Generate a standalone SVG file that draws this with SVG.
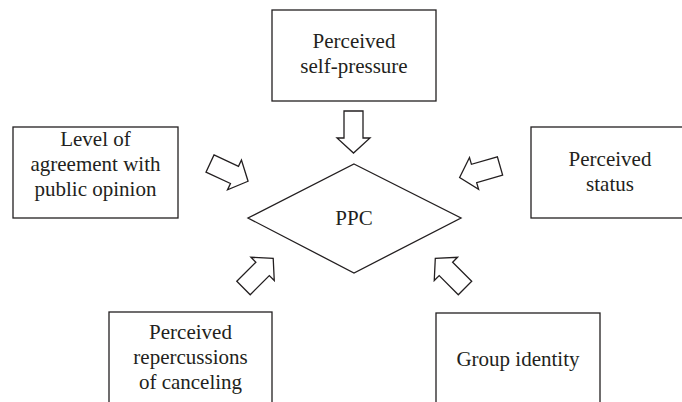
<svg xmlns="http://www.w3.org/2000/svg" width="682" height="402" viewBox="0 0 682 402">
<defs>
<style>
.box{fill:#fff;stroke:#231f20;stroke-width:1.3}
.t{font-family:"Liberation Serif","Times New Roman",serif;font-size:21px;fill:#231f20;text-anchor:middle}
.arr{fill:#fff;stroke:#231f20;stroke-width:1.3;stroke-linejoin:miter}
</style>
<polygon id="arrow" points="0,-9.5 27,-9.5 27,-16.5 42,0 27,16.5 27,9.5 0,9.5"/>
</defs>
<rect width="682" height="402" fill="#fff"/>
<g id="top">
<rect class="box" x="272" y="10" width="164" height="91"/>
<text class="t" x="354" y="48">Perceived</text>
<text class="t" x="354" y="73">self-pressure</text>
</g>
<g id="left">
<rect class="box" x="13" y="127" width="165" height="91"/>
<text class="t" x="95.5" y="146">Level of</text>
<text class="t" x="95.5" y="171">agreement with</text>
<text class="t" x="95.5" y="196">public opinion</text>
</g>
<g id="right">
<rect class="box" x="531" y="127" width="160" height="91"/>
<text class="t" x="610" y="166">Perceived</text>
<text class="t" x="610" y="191">status</text>
</g>
<g id="bottomleft">
<rect class="box" x="109" y="312" width="163" height="100"/>
<text class="t" x="190.5" y="339">Perceived</text>
<text class="t" x="190.5" y="364">repercussions</text>
<text class="t" x="190.5" y="389">of canceling</text>
</g>
<g id="bottomright">
<rect class="box" x="436" y="313" width="164" height="100"/>
<text class="t" x="518" y="366">Group identity</text>
</g>
<g id="ppc">
<polygon class="box" points="354,164 461,218 354,273 248,218"/>
<text class="t" x="354" y="225">PPC</text>
</g>
<g id="connectors">
<use href="#arrow" class="arr" transform="translate(353.5,111) rotate(90)"/>
<use href="#arrow" class="arr" transform="translate(210,163.5) rotate(25)"/>
<use href="#arrow" class="arr" transform="translate(500,166) rotate(164)"/>
<use href="#arrow" class="arr" transform="translate(243.5,288) rotate(-45)"/>
<use href="#arrow" class="arr" transform="translate(465,288) rotate(-135)"/>
</g>
</svg>
